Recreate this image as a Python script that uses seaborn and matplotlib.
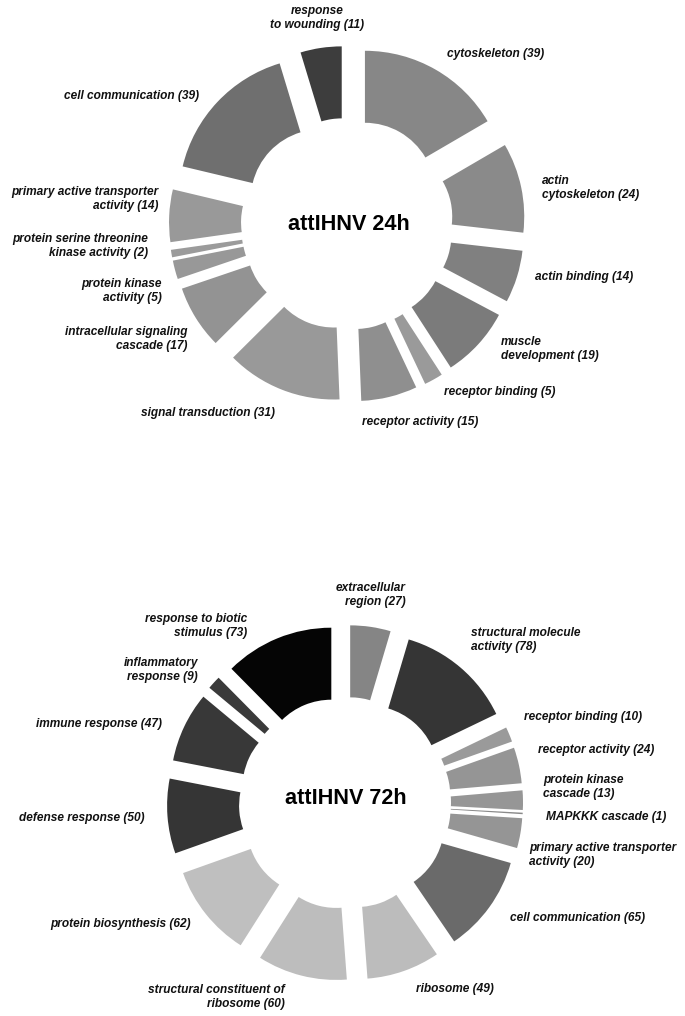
import matplotlib
matplotlib.use("Agg")
import matplotlib.pyplot as plt
import seaborn as sns

# ---------------- data ----------------
cats_24 = ["cytoskeleton", "actin\ncytoskeleton", "actin binding", "muscle\ndevelopment",
           "receptor binding", "receptor activity", "signal transduction",
           "intracellular signaling\ncascade", "protein kinase\nactivity",
           "protein serine threonine\nkinase activity", "primary active transporter\nactivity",
           "cell communication", "response\nto wounding"]
vals_24 = [39, 24, 14, 19, 5, 15, 31, 17, 5, 2, 14, 39, 11]
cols_24 = ["#878787", "#8a8a8a", "#808080", "#7b7b7b", "#9a9a9a", "#8f8f8f", "#999999",
           "#939393", "#989898", "#9b9b9b", "#999999", "#6f6f6f", "#3d3d3d"]

cats_72 = ["extracellular\nregion", "structural molecule\nactivity", "receptor binding",
           "receptor activity", "protein kinase\ncascade", "MAPKKK cascade",
           "primary active transporter\nactivity", "cell communication", "ribosome",
           "structural constituent of\nribosome", "protein biosynthesis", "defense response",
           "immune response", "inflammatory\nresponse", "response to biotic\nstimulus"]
vals_72 = [27, 78, 10, 24, 13, 1, 20, 65, 49, 60, 62, 50, 47, 9, 73]
cols_72 = ["#858585", "#353535", "#9a9a9a", "#959595", "#969696", "#8a8a8a", "#959595",
           "#6a6a6a", "#bcbcbc", "#bdbdbd", "#bfbfbf", "#353535", "#383838", "#3a3a3a",
           "#050505"]

titles = ["attIHNV 24h", "attIHNV 72h"]

# ---------------- layout (pixels) ----------------
centers = [(347, 224), (345, 803)]
title_pos = [(349, 225), (346, 799)]
R_OUT, RING, EXPL = 142, 72, 36

lab_24 = [(447, 54, "left"), (542, 188, "left"), (535, 277, "left"), (501, 349, "left"),
          (444, 392, "left"), (362, 422, "left"), (275, 413, "right"), (188, 339, "right"),
          (162, 291, "right"), (148, 246, "right"), (159, 199, "right"), (199, 96, "right"),
          (317, 18, "center")]
lab_72 = [(406, 595, "right"), (471, 640, "left"), (524, 717, "left"), (538, 750, "left"),
          (543, 787, "left"), (546, 817, "left"), (529, 855, "left"), (510, 918, "left"),
          (416, 989, "left"), (285, 997, "right"), (191, 924, "right"), (145, 818, "right"),
          (162, 724, "right"), (198, 670, "right"), (247, 626, "right")]

sns.set_theme(style="white")
plt.rcParams["font.family"] = ["Liberation Sans", "DejaVu Sans"]

fig = plt.figure(figsize=(6.85, 10.16), dpi=100)
ax = fig.add_axes([0, 0, 1, 1])

for cats, vals, cols, (cx, cy), (tx, ty), title, labs in [
        (cats_24, vals_24, cols_24, centers[0], title_pos[0], titles[0], lab_24),
        (cats_72, vals_72, cols_72, centers[1], title_pos[1], titles[1], lab_72)]:
    ax.pie(vals, colors=cols, startangle=-90, counterclock=True, radius=R_OUT,
           center=(cx, cy), explode=[EXPL] * len(vals),
           wedgeprops=dict(width=RING, linewidth=0, antialiased=True))
    ax.text(tx, ty, title, ha="center", va="center", fontsize=15.6,
            fontweight="bold", color="black")
    for cat, v, (lx, ly, ha) in zip(cats, vals, labs):
        ax.text(lx, ly, f"{cat} ({v})", ha=ha, va="center", multialignment=ha,
                fontsize=8.6, fontweight="bold", fontstyle="italic", color="#111111",
                linespacing=1.25)

ax.set_xlim(0, 685)
ax.set_ylim(1016, 0)
ax.set_aspect("auto")
ax.axis("off")

fig.savefig("out.png", dpi=100, facecolor="white")
